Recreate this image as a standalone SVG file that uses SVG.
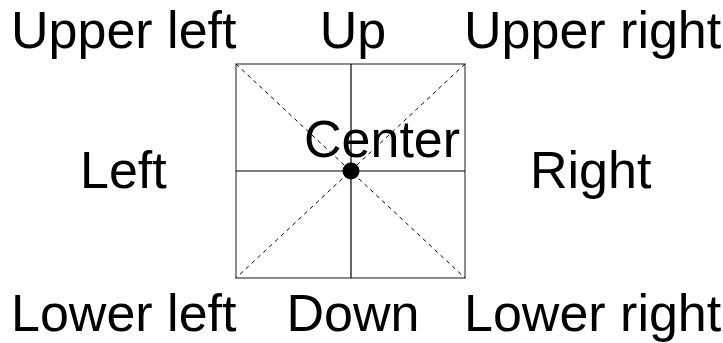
<svg xmlns="http://www.w3.org/2000/svg" width="723" height="343" viewBox="0 0 723 343">
<style>
.t{font-family:"Liberation Sans",Arial,sans-serif;font-size:52px;fill:#000}
.frame{fill:none;stroke:#666;stroke-width:1.5}
.axis{stroke:#000;stroke-width:1.2}
.diag{stroke:#000;stroke-width:1;stroke-dasharray:4 4}
</style>
<rect width="723" height="343" fill="#fff"/>
<g id="connectors">
<rect class="frame" x="236" y="64" width="229" height="214"/>
<line class="axis" x1="351" y1="64" x2="351" y2="278"/>
<line class="axis" x1="236" y1="171" x2="465" y2="171"/>
<line class="diag" x1="236" y1="64" x2="465" y2="278"/>
<line class="diag" x1="465" y1="64" x2="236" y2="278"/>
</g>
<g id="center"><circle cx="351" cy="171" r="8.5" fill="#000"/><text class="t" x="304" y="157">Center</text></g>
<g id="upper-left"><text class="t" x="11" y="48">Upper left</text></g>
<g id="up"><text class="t" x="353" y="48" text-anchor="middle">Up</text></g>
<g id="upper-right"><text class="t" x="464" y="48">Upper right</text></g>
<g id="left"><text class="t" x="80" y="188">Left</text></g>
<g id="right"><text class="t" x="530" y="188">Right</text></g>
<g id="lower-left"><text class="t" x="11" y="331">Lower left</text></g>
<g id="down"><text class="t" x="353" y="331" text-anchor="middle">Down</text></g>
<g id="lower-right"><text class="t" x="464" y="331">Lower right</text></g>
</svg>
